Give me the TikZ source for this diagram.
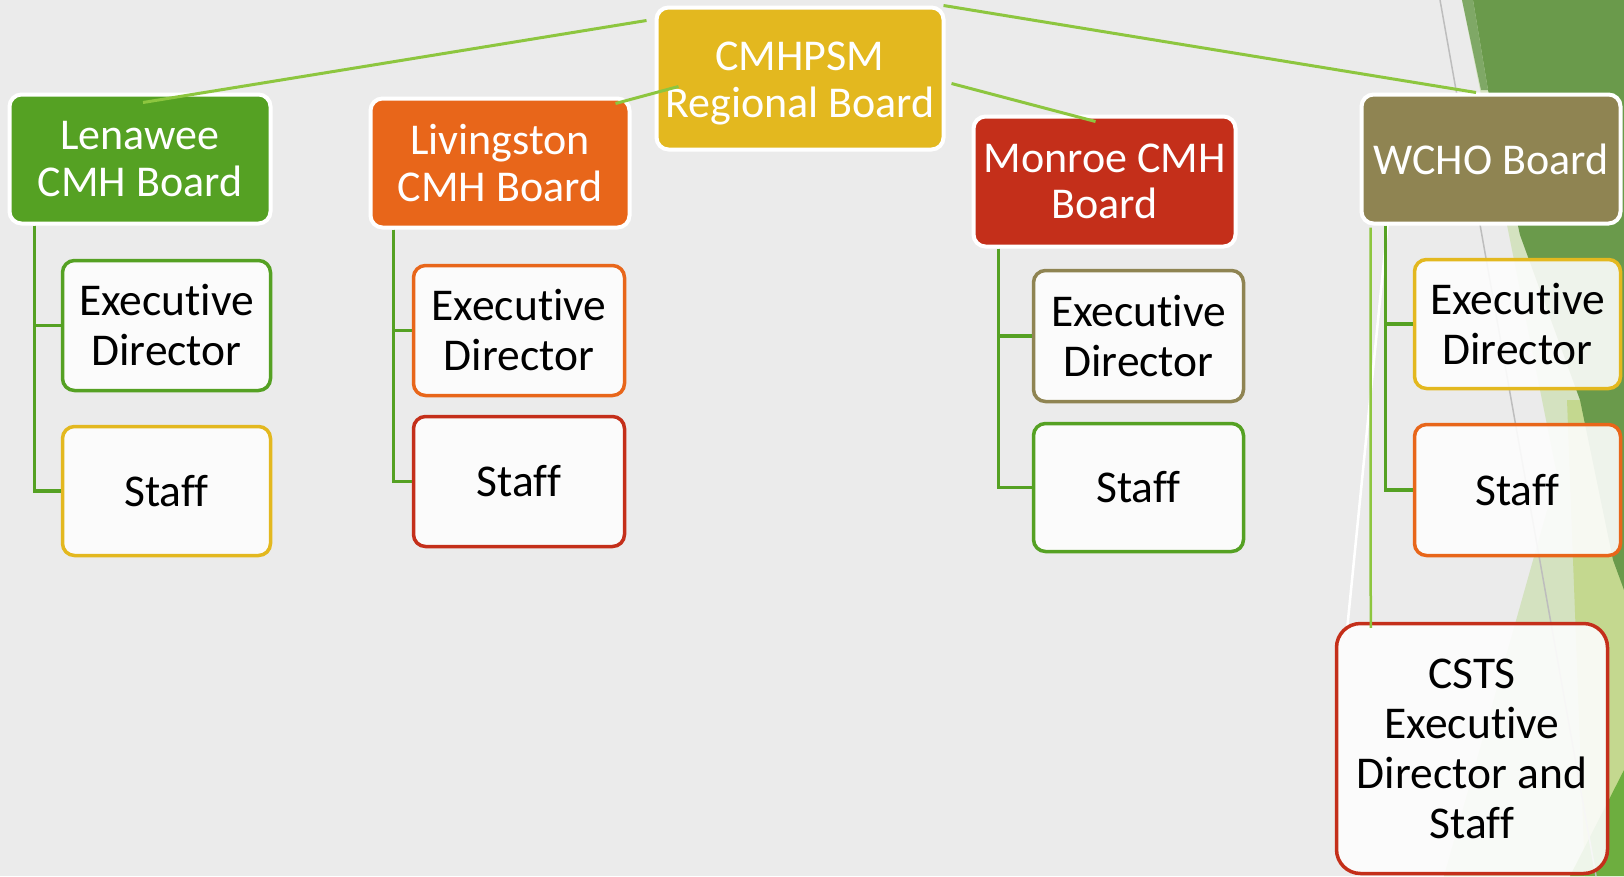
\documentclass[tikz,border=0pt]{standalone}
\usepackage{fontspec}
\setmainfont{Carlito}[Ligatures=NoCommon]
\usetikzlibrary{calc}

\definecolor{bg}{HTML}{EBEBEB}
\definecolor{gold}{HTML}{E3B81F}
\definecolor{grn}{HTML}{55A123}
\definecolor{orng}{HTML}{E8661A}
\definecolor{rd}{HTML}{C42F1A}
\definecolor{olive}{HTML}{8F8452}
\definecolor{lime}{HTML}{8DC63F}
\definecolor{cardfill}{HTML}{FDFDFD}
\definecolor{facetdark}{HTML}{6A9A4B}
\definecolor{facetpale}{HTML}{D4E2C0}
\definecolor{facetlight}{HTML}{C4D88F}
\definecolor{facetmid}{HTML}{6DAE3F}
\definecolor{facetsliver}{HTML}{7FA866}
\definecolor{facetline}{HTML}{BDBDBD}

\tikzset{
  board/.style={rounded corners=12pt, draw=white, line width=4pt, inner sep=0pt,
    text=white, align=center, font=\fontsize{44}{46.5}\selectfont},
  card/.style={rounded corners=12pt, fill=cardfill, fill opacity=0.9, text opacity=1,
    line width=3.5pt, inner sep=0pt, align=center, text=black,
    font=\fontsize{45.5}{50}\selectfont},
  trunk/.style={draw=grn, line width=3.5pt},
  link/.style={draw=lime, line width=3pt},
}

\begin{document}
\begin{tikzpicture}[x=1pt, y=-1pt]
  % canvas
  \useasboundingbox (0,0) rectangle (1624,876);
  \fill[bg] (0,0) rectangle (1624,876);

  % facet ornament on the right edge
  \fill[facetpale] (1462,0) -- (1624,0) -- (1624,876) -- (1444,876) -- (1557,475) -- cycle;
  \fill[facetlight] (1567,400) -- (1624,400) -- (1624,876) -- (1585,876) -- (1573,560) -- cycle;
  \fill[facetdark] (1473,0) -- (1624,0) -- (1624,590) -- (1613,560) -- (1580,400)
    -- (1520,235) -- (1488,90) -- cycle;
  \fill[facetsliver] (1462,0) -- (1473,0) -- (1488,90) -- (1481,90) -- cycle;
  \fill[facetmid] (1624,770) -- (1624,876) -- (1570,876) -- cycle;
  \draw[facetline, line width=1.5pt] (1440,0) -- (1596,876);
  \draw[white, line width=2.5pt] (1398,120) -- (1346,640);

  % boards
  \node[board, fill=gold, minimum width=287pt, minimum height=142pt] (cmhpsm) at (800,78.5)
    {\rule{0pt}{39pt}CMHPSM\\Regional Board};
  \node[board, fill=grn, minimum width=261pt, minimum height=129pt] (len) at (140,159)
    {Lenawee\\CMH Board};
  \node[board, fill=orng, minimum width=259pt, minimum height=129pt] (liv) at (500,163)
    {Livingston\\CMH Board};
  \node[board, fill=rd, minimum width=262pt, minimum height=130pt] (mon) at (1104.5,181.5)
    {Monroe CMH\\Board};
  \node[board, fill=olive, minimum width=259pt, minimum height=129pt] (wcho) at (1491,159)
    {WCHO Board};

  % staff cards
  \node[card, draw=grn, minimum width=208pt, minimum height=130pt] (lenED) at (166.5,325.5)
    {Executive\\Director};
  \node[card, draw=gold, minimum width=208pt, minimum height=129pt] (lenStaff) at (166.5,491)
    {Staff};
  \node[card, draw=orng, minimum width=211pt, minimum height=130pt] (livED) at (519,330.5)
    {Executive\\Director};
  \node[card, draw=rd, minimum width=211pt, minimum height=130pt] (livStaff) at (519,481.5)
    {Staff};
  \node[card, draw=olive, minimum width=210pt, minimum height=131pt] (monED) at (1138.5,336)
    {Executive\\Director};
  \node[card, draw=grn, minimum width=210pt, minimum height=128pt] (monStaff) at (1138.5,487.5)
    {Staff};
  \node[card, draw=gold, minimum width=206pt, minimum height=129pt] (wchoED) at (1517.5,324)
    {Executive\\Director};
  \node[card, draw=orng, minimum width=206pt, minimum height=131pt] (wchoStaff) at (1517.5,490)
    {Staff};
  \node[card, draw=rd, rounded corners=24pt, minimum width=271pt, minimum height=250pt]
    (csts) at (1472,748.5) {CSTS\\Executive\\Director and\\Staff};

  % board-to-staff trunks
  \draw[trunk] ($(len.south west)+(27,0)$) |- (lenED.west);
  \draw[trunk] ($(len.south west)+(27,0)$) |- (lenStaff.west);
  \draw[trunk] ($(liv.south west)+(25,0)$) |- (livED.west);
  \draw[trunk] ($(liv.south west)+(25,0)$) |- (livStaff.west);
  \draw[trunk] ($(mon.south west)+(27,0)$) |- (monED.west);
  \draw[trunk] ($(mon.south west)+(27,0)$) |- (monStaff.west);
  \draw[trunk] ($(wcho.south west)+(26,0)$) |- (wchoED.west);
  \draw[trunk] ($(wcho.south west)+(26,0)$) |- (wchoStaff.west);
  \draw[link, line width=2.5pt] ($(wcho.south west)+(11,2)$) -- ($(csts.north west)+(36,6)$);

  % regional board links
  \draw[link] ($(cmhpsm.north west)+(-8,15)$) -- ($(len.north)+(3,10)$);
  \draw[link] ($(liv.north east)+(-16,7)$) -- ($(cmhpsm.north west)+(24,81)$);
  \draw[link] ($(cmhpsm.north east)+(6,78)$) -- ($(mon.north)+(-9,7)$);
  \draw[link] ($(cmhpsm.north east)+(-2,0)$) -- ($(wcho.north)+(-15,0)$);
\end{tikzpicture}
\end{document}
